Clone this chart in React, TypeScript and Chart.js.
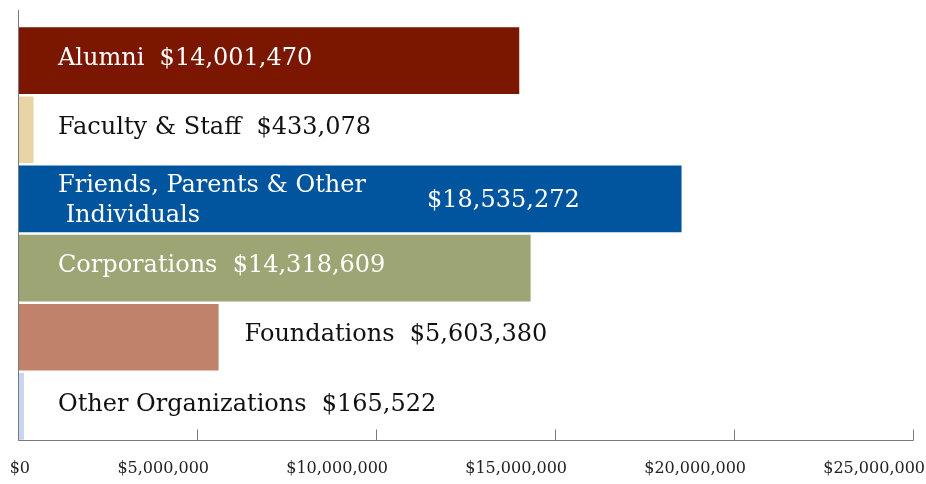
import React, { useEffect, useRef } from "react";
import { Chart, registerables } from "chart.js";

Chart.register(...registerables);

const categories = [
  "Alumni",
  "Faculty & Staff",
  "Friends, Parents & Other\n Individuals",
  "Corporations",
  "Foundations",
  "Other Organizations",
];
const values = [14001470, 433078, 18535272, 14318609, 5603380, 165522];
const barColors = ["#7B1700", "#E8D4A4", "#01549E", "#9EA575", "#C1826B", "#C6D6EE"];
const labelColors = ["#ffffff", "#111111", "#ffffff", "#ffffff", "#111111", "#111111"];
const labelAnchors = ["base", "base", "split", "base", "end", "base"];
const xTicks = [0, 5000000, 10000000, 15000000, 20000000, 25000000];

const FONT = '"DejaVu Serif", serif';
const fmt = (v: number) => "$" + v.toLocaleString("en-US");

const overlayPlugin = {
  id: "overlay",
  afterDatasetsDraw(chart: any) {
    const ctx = chart.ctx;
    const x = chart.scales.x;
    const y = chart.scales.y;
    const area = chart.chartArea;
    ctx.save();
    ctx.strokeStyle = "#7a7a7a";
    ctx.lineWidth = 1;
    const x0 = Math.round(x.getPixelForValue(0)) + 0.5;
    const yb = Math.round(area.bottom) - 0.5;
    ctx.beginPath();
    ctx.moveTo(x0, 10);
    ctx.lineTo(x0, yb);
    ctx.lineTo(Math.round(x.getPixelForValue(xTicks[xTicks.length - 1])) + 0.5, yb);
    xTicks.forEach((t) => {
      const px = Math.round(x.getPixelForValue(t)) + 0.5;
      ctx.moveTo(px, yb);
      ctx.lineTo(px, yb - 11);
    });
    ctx.stroke();
    ctx.font = "24px " + FONT;
    ctx.textBaseline = "middle";
    ctx.textAlign = "left";
    categories.forEach((name, i) => {
      const cy = y.getPixelForValue(i) - 2;
      const base = x.getPixelForValue(0) + 40;
      const end = x.getPixelForValue(values[i]);
      ctx.fillStyle = labelColors[i];
      const anchor = labelAnchors[i];
      if (anchor === "split") {
        const lines = name.split("\n");
        ctx.fillText(lines[0], base, cy - 11);
        ctx.fillText(lines[1], base, cy + 19);
        ctx.fillText(fmt(values[i]), base + 369, cy + 4);
      } else {
        const text = name + "  " + fmt(values[i]);
        const lx = anchor === "end" ? end + 26 : base;
        ctx.fillText(text, lx, cy);
      }
    });
    ctx.restore();
  },
};

export default function App() {
  const ref = useRef<HTMLCanvasElement>(null);
  useEffect(() => {
    if (!ref.current) return;
    const chart = new Chart(ref.current, {
      type: "bar",
      data: {
        labels: categories,
        datasets: [
          {
            data: values,
            backgroundColor: barColors,
            borderWidth: 0,
            categoryPercentage: 1,
            barPercentage: 0.965,
          },
        ],
      },
      options: {
        indexAxis: "y",
        animation: false,
        responsive: false,
        devicePixelRatio: 1,
        layout: { padding: { left: 18, right: 87, top: 26, bottom: 7 } },
        plugins: { legend: { display: false }, tooltip: { enabled: false } },
        scales: {
          x: {
            min: 0,
            max: 25000000,
            afterFit: (s: any) => {
              s.paddingLeft = 0;
              s.paddingRight = 0;
              s.height = 36;
            },
            afterBuildTicks: (s: any) => {
              s.ticks = xTicks.map((v) => ({ value: v }));
            },
            border: { display: false },
            grid: { display: false, drawTicks: false },
            ticks: {
              padding: 18,
              maxRotation: 0,
              autoSkip: false,
              align: "end",
              labelOffset: 12,
              color: "#222",
              font: { family: FONT, size: 16 },
              callback: (v: any) => fmt(Number(v)),
            },
          },
          y: { display: false },
        },
      },
      plugins: [overlayPlugin],
    });
    return () => chart.destroy();
  }, []);
  return (
    <div style={{ position: "absolute", left: 0, top: 0, width: 926, height: 484, overflow: "hidden", background: "#fff" }}>
      <canvas ref={ref} width={1000} height={484} style={{ display: "block" }} />
    </div>
  );
}
